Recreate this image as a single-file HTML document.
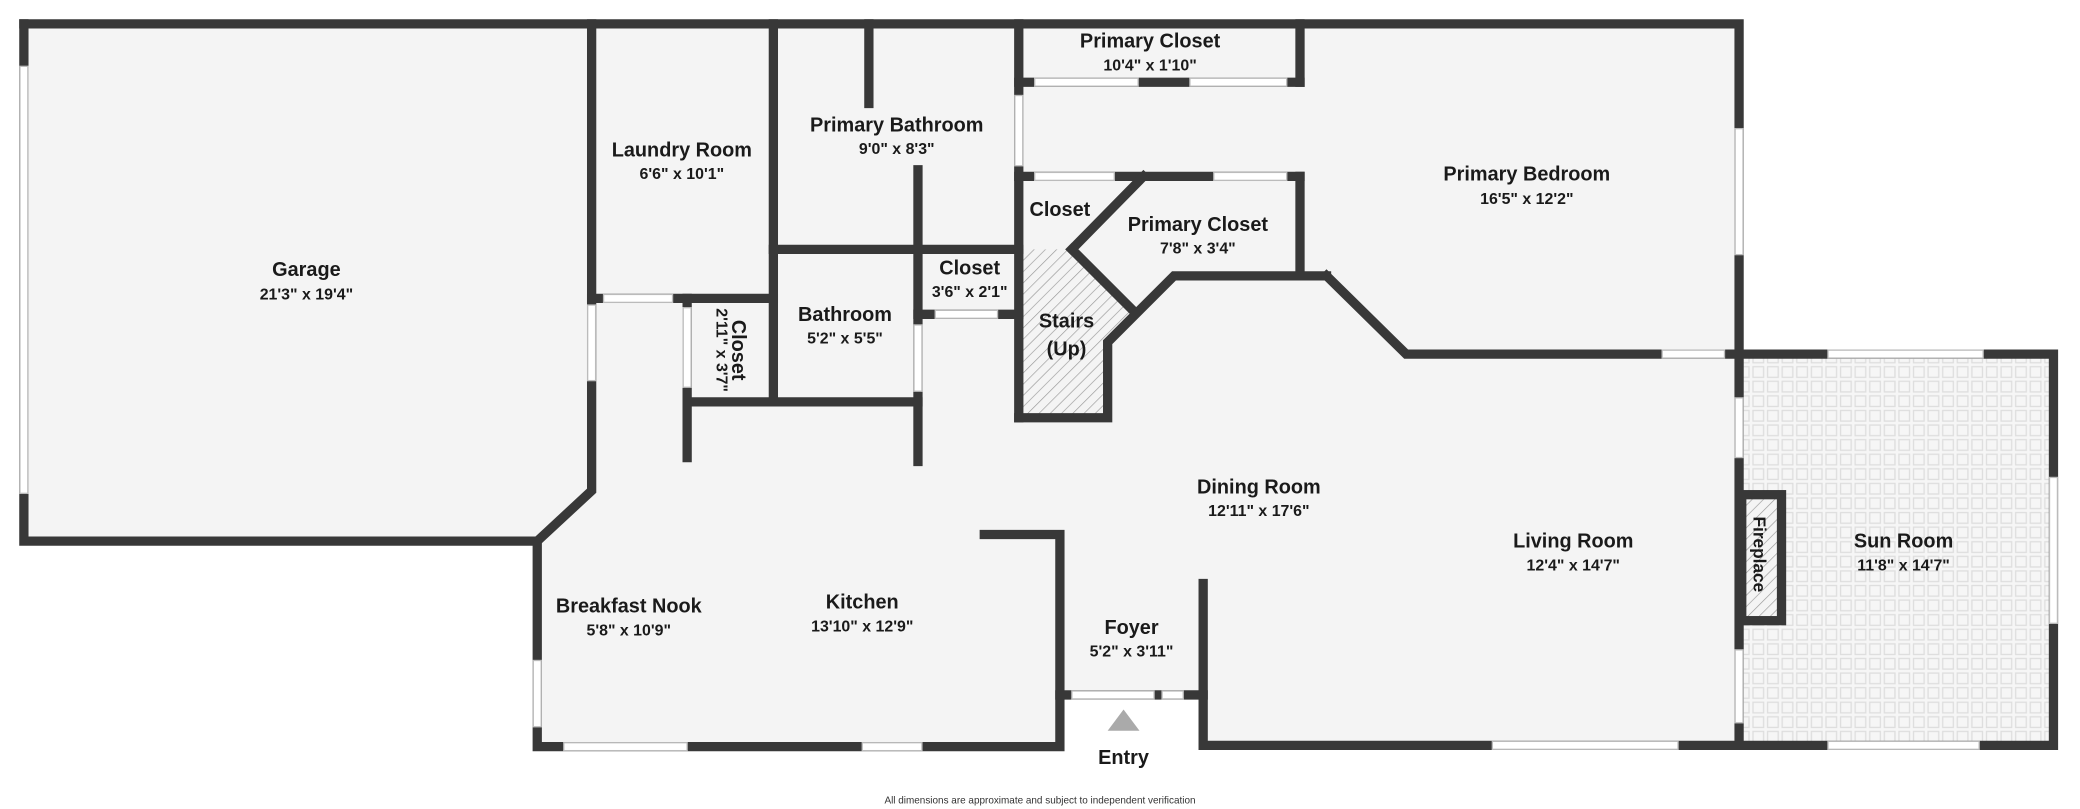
<!DOCTYPE html>
<html><head><meta charset="utf-8"><style>
html,body{margin:0;padding:0;background:#fff;width:2080px;height:809px;overflow:hidden}
svg{display:block}
text{font-family:"Liberation Sans",sans-serif;fill:#1a1a1a;text-anchor:middle}
.n{font-size:15px;font-weight:bold}
.d{font-size:12px;font-weight:bold}
</style></head><body>
<svg width="2080" height="809" viewBox="0 0 1568 610" preserveAspectRatio="none" xmlns="http://www.w3.org/2000/svg">
<defs>
<pattern id="tile" width="11" height="11" patternUnits="userSpaceOnUse">
<rect width="11" height="11" fill="#f6f6f6"/><rect x="1.5" y="1.5" width="8" height="8" fill="none" stroke="#dedede" stroke-width="1"/>
</pattern>
<pattern id="hatch" width="6" height="6" patternUnits="userSpaceOnUse" patternTransform="rotate(45)">
<rect width="6" height="6" fill="#f4f4f4"/><line x1="0" y1="0" x2="0" y2="6" stroke="#9a9a9a" stroke-width="1"/>
</pattern>
</defs>
<polygon points="18,18 1311,18 1311,267 1548,267 1548,562 907,562 907,524 799,524 799,563 405,563 405,408 18,408" fill="#f4f4f4"/>
<rect x="1313" y="267" width="235" height="295" fill="url(#tile)"/>
<polygon points="768,188 808,188 855,235 835,258 835,315 768,315" fill="url(#hatch)"/>
<rect x="1313" y="373" width="30" height="95" fill="url(#hatch)"/>
<g stroke="#383838" stroke-width="7" stroke-linecap="square" fill="none">
<polyline points="18,18 1311,18 1311,562"/>
<polyline points="18,18 18,408 405,408 446,370 446,18"/>
<line x1="446" y1="225" x2="583" y2="225"/>
<line x1="583" y1="18" x2="583" y2="303"/>
<line x1="518" y1="225" x2="518" y2="345"/>
<line x1="518" y1="303" x2="692" y2="303"/>
<line x1="692" y1="128" x2="692" y2="348"/>
<line x1="655" y1="18" x2="655" y2="78"/>
<line x1="583" y1="188" x2="768" y2="188"/>
<line x1="692" y1="237" x2="768" y2="237"/>
<line x1="768" y1="18" x2="768" y2="315"/>
<line x1="768" y1="62" x2="980" y2="62"/>
<line x1="980" y1="18" x2="980" y2="62"/>
<line x1="768" y1="133" x2="980" y2="133"/>
<line x1="980" y1="133" x2="980" y2="208"/>
<line x1="862" y1="133" x2="808" y2="188"/>
<line x1="808" y1="188" x2="855" y2="235"/>
<polyline points="1000,208 885,208 835,258 835,315 768,315"/>
<polyline points="1000,208 1060,267 1548,267 1548,562 907,562 907,440"/>
<polyline points="742,403 799,403 799,563 405,563 405,408"/>
<line x1="799" y1="524" x2="907" y2="524"/>
<rect x="1313" y="373" width="30" height="95"/>
</g>
<g fill="#fff" stroke="#bbb" stroke-width="1">
<rect x="15" y="50" width="6" height="322"/>
<rect x="443" y="230" width="6" height="57"/>
<rect x="455" y="222" width="52" height="6"/>
<rect x="515" y="232" width="6" height="60"/>
<rect x="689" y="245" width="6" height="50"/>
<rect x="705" y="234" width="47" height="6"/>
<rect x="765" y="72" width="6" height="53"/>
<rect x="780" y="59" width="78" height="6"/>
<rect x="897" y="59" width="73" height="6"/>
<rect x="780" y="130" width="60" height="6"/>
<rect x="915" y="130" width="55" height="6"/>
<rect x="1253" y="264" width="47" height="6"/>
<rect x="1378" y="264" width="117" height="6"/>
<rect x="1308" y="97" width="6" height="95"/>
<rect x="1308" y="300" width="6" height="45"/>
<rect x="1308" y="490" width="6" height="55"/>
<rect x="1545" y="360" width="6" height="110"/>
<rect x="1378" y="559" width="114" height="6"/>
<rect x="1125" y="559" width="140" height="6"/>
<rect x="425" y="560" width="93" height="6"/>
<rect x="650" y="560" width="45" height="6"/>
<rect x="402" y="498" width="6" height="50"/>
<rect x="808" y="521" width="62" height="6"/>
<rect x="876" y="521" width="16" height="6"/>
</g>
<polygon points="847,535 835,551 859,551" fill="#aaa"/>
<text class="n" x="231" y="208">Garage</text><text class="d" x="231" y="226">21'3" x 19'4"</text>
<text class="n" x="514" y="118">Laundry Room</text><text class="d" x="514" y="135">6'6" x 10'1"</text>
<text class="n" x="676" y="99">Primary Bathroom</text><text class="d" x="676" y="116">9'0" x 8'3"</text>
<text class="n" x="867" y="36">Primary Closet</text><text class="d" x="867" y="53">10'4" x 1'10"</text>
<text class="n" x="1151" y="136">Primary Bedroom</text><text class="d" x="1151" y="154">16'5" x 12'2"</text>
<text class="n" x="799" y="163">Closet</text>
<text class="n" x="903" y="174">Primary Closet</text><text class="d" x="903" y="191">7'8" x 3'4"</text>
<text class="n" x="731" y="207">Closet</text><text class="d" x="731" y="224">3'6" x 2'1"</text>
<text class="n" x="637" y="242">Bathroom</text><text class="d" x="637" y="259">5'2" x 5'5"</text>
<text class="n" x="804" y="247">Stairs</text><text class="n" x="804" y="268">(Up)</text>
<g transform="translate(552,264) rotate(90)"><text class="n" x="0" y="0">Closet</text><text class="d" x="0" y="12">2'11" x 3'7"</text></g>
<text class="n" x="949" y="372">Dining Room</text><text class="d" x="949" y="389">12'11" x 17'6"</text>
<text class="n" x="1186" y="413">Living Room</text><text class="d" x="1186" y="430">12'4" x 14'7"</text>
<text class="n" x="1435" y="413">Sun Room</text><text class="d" x="1435" y="430">11'8" x 14'7"</text>
<g transform="translate(1322,418) rotate(90)"><text class="n" x="0" y="0" style="font-size:13px">Fireplace</text></g>
<text class="n" x="474" y="462">Breakfast Nook</text><text class="d" x="474" y="479">5'8" x 10'9"</text>
<text class="n" x="650" y="459">Kitchen</text><text class="d" x="650" y="476">13'10" x 12'9"</text>
<text class="n" x="853" y="478">Foyer</text><text class="d" x="853" y="495">5'2" x 3'11"</text>
<text class="n" x="847" y="576">Entry</text>
<text x="784" y="606" style="font-size:7.5px;fill:#333">All dimensions are approximate and subject to independent verification</text>
</svg>
</body></html>
